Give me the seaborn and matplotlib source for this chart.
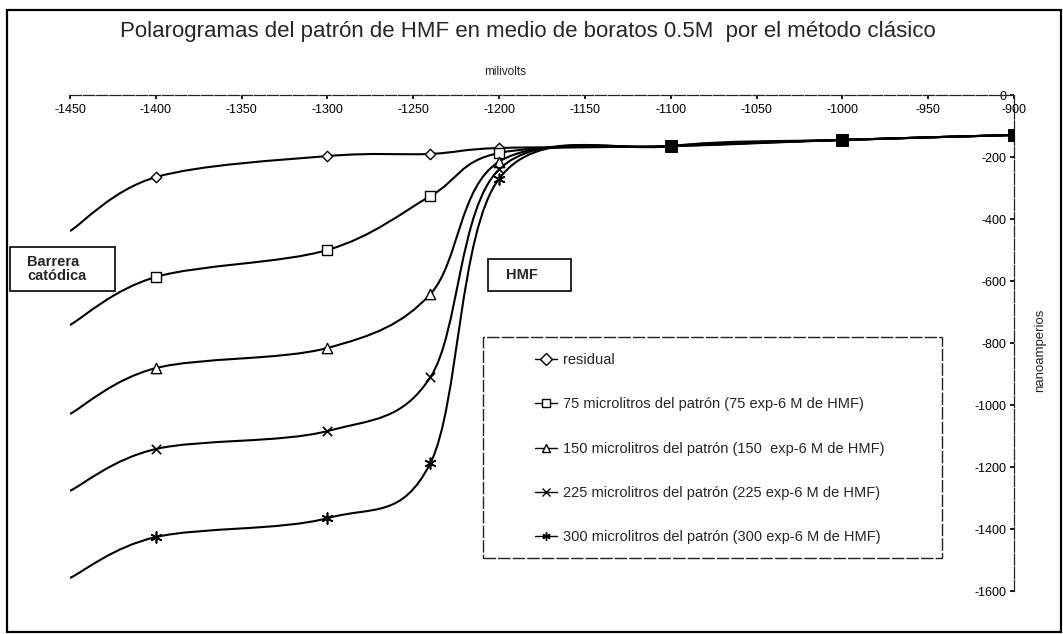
import matplotlib
matplotlib.use("Agg")
import matplotlib.pyplot as plt
from matplotlib.lines import Line2D
from matplotlib.patches import PathPatch, Rectangle
from matplotlib.path import Path
import numpy as np
import seaborn as sns

# ---------------------------------------------------------------------------
# Datos (leídos del polarograma)
# ---------------------------------------------------------------------------
milivolts = [-1450, -1400, -1300, -1240, -1200, -1100, -1000, -900]

residual = [-439, -265, -197, -190, -171, -165, -145, -129]
patron_75 = [-742, -587, -500, -326, -187, -165, -145, -129]
patron_150 = [-1029, -881, -816, -642, -215, -165, -145, -129]
patron_225 = [-1277, -1142, -1084, -910, -240, -165, -145, -129]
patron_300 = [-1558, -1426, -1365, -1187, -270, -165, -145, -129]

etiquetas = [
    "residual",
    "75 microlitros del patrón (75 exp-6 M de HMF)",
    "150 microlitros del patrón (150  exp-6 M de HMF)",
    "225 microlitros del patrón (225 exp-6 M de HMF)",
    "300 microlitros del patrón (300 exp-6 M de HMF)",
]
x_ticks = list(range(-1450, -899, 50))
y_ticks = list(range(-1600, 1, 200))

# ---------------------------------------------------------------------------
# Estilo
# ---------------------------------------------------------------------------
sns.set_theme(style="white")
plt.rcParams["font.family"] = ["Liberation Sans", "DejaVu Sans"]

W, H = 1063, 634
SERIES = [residual, patron_75, patron_150, patron_225, patron_300]
MARKERS = [
    dict(marker="D", s=28, facecolor="white", edgecolor="black", linewidth=1.0),
    dict(marker="s", s=55, facecolor="white", edgecolor="black", linewidth=1.0),
    dict(marker="^", s=55, facecolor="white", edgecolor="black", linewidth=1.0),
    dict(marker="x", s=45, color="black", linewidth=1.2),
    dict(marker=(6, 2, 0), s=60, color="black", linewidth=1.2),
]


def px_box(x0, y0, x1, y1):
    """Pixel (arriba-izquierda) -> fracción de figura."""
    return x0 / W, 1 - y1 / H, (x1 - x0) / W, (y1 - y0) / H


def cuadro(x0, y0, x1, y1, **kw):
    l, b, w, h = px_box(x0, y0, x1, y1)
    fig.patches.append(Rectangle((l, b), w, h, transform=fig.transFigure,
                                 fill=False, **kw))


def curva_suave(xs, ys):
    """Curva suavizada tipo Excel (Bezier con tensión 1/6)."""
    pts = np.column_stack([xs, ys]).astype(float)
    n = len(pts)
    verts, codes = [pts[0]], [Path.MOVETO]
    for i in range(n - 1):
        p0, p1 = pts[max(i - 1, 0)], pts[i]
        p2, p3 = pts[i + 1], pts[min(i + 2, n - 1)]
        verts += [p1 + (p2 - p0) / 6, p2 - (p3 - p1) / 6, p2]
        codes += [Path.CURVE4] * 3
    return Path(verts, codes)


fig = plt.figure(figsize=(W / 100, H / 100), dpi=100)
ax = fig.add_axes(px_box(70, 95, 1014, 591))

for serie, mk in zip(SERIES, MARKERS):
    ax.add_patch(PathPatch(curva_suave(milivolts, serie), fill=False,
                           edgecolor="black", linewidth=1.5, zorder=2))
    sns.scatterplot(x=milivolts[1:], y=serie[1:], ax=ax, zorder=3, **mk)

# puntos comunes a todas las series (marcadores superpuestos)
sns.scatterplot(x=milivolts[5:], y=residual[5:], ax=ax, marker="s", s=70,
                color="black", edgecolor="black", zorder=4)

ax.set_xlim(-1450, -900)
ax.set_ylim(-1600, 0)
ax.set_xticks(x_ticks)
ax.set_yticks(y_ticks)

for lado in ["left", "bottom"]:
    ax.spines[lado].set_visible(False)
for lado in ["top", "right"]:
    ax.spines[lado].set_color("#222222")
    ax.spines[lado].set_linewidth(0.9)
    ax.spines[lado].set_linestyle((0, (9, 1.5)))

ax.xaxis.tick_top()
ax.tick_params(axis="x", which="both", top=True, bottom=False, labeltop=True,
               labelbottom=False, direction="in", length=3, pad=-15,
               labelsize=9, colors="black")
ax.yaxis.tick_right()
ax.tick_params(axis="y", which="both", right=True, left=False, labelright=True,
               labelleft=False, direction="in", length=3, pad=-5.5,
               labelsize=9, colors="black")
ax.set_yticklabels([str(v) for v in y_ticks])
ax.set_xticklabels([str(v) for v in x_ticks])
for lab in ax.get_yticklabels():
    lab.set_horizontalalignment("right")
ax.set_xlabel("")
ax.set_ylabel("")
ax.grid(False)

# textos
fig.text(528 / W, 1 - 32 / H, "Polarogramas del patrón de HMF en medio de boratos 0.5M  por el método clásico",
         ha="center", va="center", fontsize=16)
fig.text(505 / W, 1 - 72 / H, "milivolts", ha="center", va="center", fontsize=8.5)
fig.text(1040 / W, 1 - 350 / H, "nanoamperios", ha="center", va="center",
         rotation=90, fontsize=9.5)

# cuadros de texto
cuadro(10, 247, 115, 291, edgecolor="black", linewidth=1.2)
fig.text(27 / W, 1 - 269 / H, "Barrera\ncatódica", ha="left", va="center",
         fontsize=10.5, fontweight="bold", linespacing=1.05)
cuadro(488, 259, 571, 291, edgecolor="black", linewidth=1.2)
fig.text(506 / W, 1 - 275 / H, "HMF", ha="left", va="center", fontsize=10.5,
         fontweight="bold")

# leyenda
cuadro(483, 337, 942, 558, edgecolor="#222222", linewidth=1.0, linestyle=(0, (9, 1.5)))
handles = []
for mk in MARKERS:
    fc = mk.get("facecolor", "black")
    handles.append(Line2D([0], [0], color="black", linewidth=1.0, marker=mk["marker"],
                          markersize=6, markerfacecolor=fc, markeredgecolor="black",
                          markeredgewidth=1.0))
fig.legend(handles, etiquetas, loc="upper left", bbox_to_anchor=(535 / W, 1 - 353 / H),
           frameon=False, fontsize=10.5, borderpad=0, borderaxespad=0,
           handlelength=1.5, handletextpad=0.45, labelspacing=2.08)

# marco exterior
cuadro(7, 10, 1061, 632, edgecolor="black", linewidth=1.6)

fig.savefig("out.png", dpi=100)
